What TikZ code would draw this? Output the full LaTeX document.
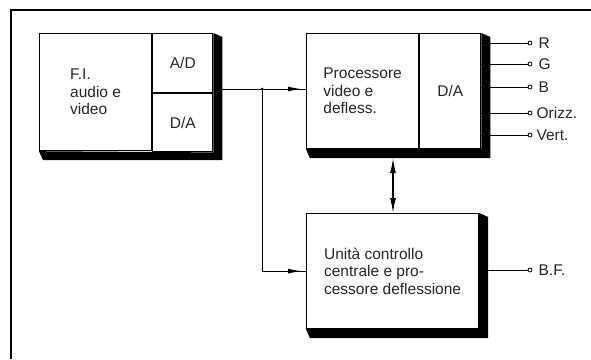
\documentclass[tikz,border=0pt]{standalone}
\usepackage{fontspec}
\setmainfont{Liberation Sans}
\usetikzlibrary{arrows.meta,positioning}

\begin{document}
\begin{tikzpicture}[
      x=1pt, y=-1pt,
      every node/.style={font=\fontsize{15.5}{17.5}\selectfont, text=black!85},
      cell/.style={draw, line width=1.2pt, fill=white, align=left, inner sep=0pt, anchor=north west},
      term/.style={draw, circle, line width=0.8pt, fill=white, inner sep=0pt, minimum size=4pt},
      lab/.style={inner sep=0pt},
      wire/.style={line width=1pt},
      tip/.style={-{Latex[length=13pt, width=5pt]}, line width=1pt},
      both/.style={{Latex[length=15pt, width=6pt]}-{Latex[length=15pt, width=6pt]}, line width=1.2pt}
    ]
      \useasboundingbox (0,0) rectangle (591,359);
      \draw[line width=2pt] (11,359) -- (11,10) -- (591,10);

      \node[cell, minimum width=112, minimum height=117] (fi) at (39,33) {F.I.\\audio e\\video};
      \node[cell, minimum width=60, minimum height=59] (ad) at (fi.north east) {A/D};
      \node[cell, minimum width=60, minimum height=58] (da) at (ad.south west) {D/A};

      \node[cell, minimum width=112, minimum height=115] (proc) at (306,33) {Processore\\video e\\defless.};
      \node[cell, minimum width=61, minimum height=115] (pda) at (proc.north east) {D/A};

      \node[cell, minimum width=172, minimum height=115] (ucc) at (306,213) {Unità controllo\\centrale e pro-\\cessore deflessione};

      \fill (fi.south west) -- ++(4,9) -| ([shift={(9,4)}]ad.north east) -- (ad.north east) -- (da.south east) -- cycle;
      \fill (proc.south west) -- ++(4,9) -| ([shift={(9,4)}]pda.north east) -- (pda.north east) -- (pda.south east) -- cycle;
      \fill (ucc.south west) -- ++(4,9) -| ([shift={(9,4)}]ucc.north east) -- (ucc.north east) -- (ucc.south east) -- cycle;

      \coordinate (j) at (262,89);
      \draw[wire] (j -| ad.east) -- (proc.west |- j);
      \draw[wire] (j) |- (ucc.west);
      \draw[tip] ([xshift=-19]proc.west |- j) -- ++(14,0);
      \draw[tip] ([xshift=-19]ucc.west) -- ++(14,0);
      \fill (j) circle (1.5pt);

      \draw[both, shorten <=9pt] (proc.south -| 393,0) -- (ucc.north -| 393,0);

      \node[term] (r) at (530,43) {};
      \node[term] (g) at (530,64) {};
      \node[term] (b) at (530,87) {};
      \node[term] (oz) at (530,113) {};
      \node[term] (vt) at (530,135) {};
      \node[term] (bf) at (530,270) {};
      \node[lab, right=6pt of r] (lr) {R};
      \node[lab, right=6pt of g] (lg) {G};
      \node[lab, right=6pt of b] (lb) {B};
      \node[lab, right=4pt of oz] (loz) {Orizz.};
      \node[lab, right=4pt of vt] (lvt) {Vert.};
      \node[lab, right=6pt of bf] (lbf) {B.F.};
      \foreach \t in {r,g,b,oz,vt}
        \draw[wire] (pda.east |- \t) -- (\t);
      \draw[wire] (ucc.east |- bf) -- (bf);
    \end{tikzpicture}
\end{document}
